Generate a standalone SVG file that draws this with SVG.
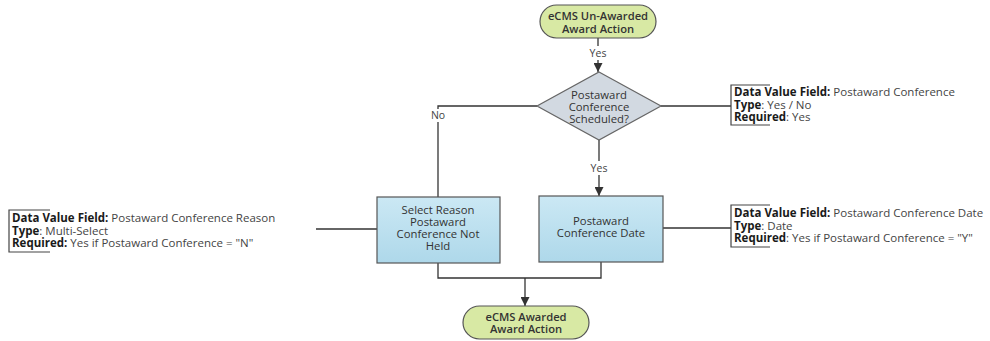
<svg xmlns="http://www.w3.org/2000/svg" width="990" height="341" viewBox="0 0 990 341">
<style>
.bg{fill:#ffffff}
.term{fill:#d8e9a4;stroke:#555;stroke-width:1.2}
.dia{fill:#d2d9e1;stroke:#666;stroke-width:1.2}
.box{fill:url(#boxg);stroke:#555;stroke-width:1.2}
.ln{fill:none;stroke:#333;stroke-width:1.3}
.br{fill:none;stroke:#444;stroke-width:1.2}
.nt{font-family:"Open Sans","Liberation Sans",sans-serif;font-size:11.3px;fill:#333;text-anchor:middle}
.tt{font-family:"Open Sans","Liberation Sans",sans-serif;font-size:11.2px;font-weight:600;fill:#333;text-anchor:middle}
.lb{font-family:"Open Sans","Liberation Sans",sans-serif;font-size:10.5px;fill:#444;text-anchor:middle}
.dv{font-family:"Open Sans","Liberation Sans",sans-serif;font-size:11.5px;fill:#444}
.dv .b{font-weight:700;fill:#1a1a1a}
</style>
<defs>
<linearGradient id="boxg" x1="0" y1="0" x2="0" y2="1">
<stop offset="0" stop-color="#cbe8f4"/>
<stop offset="1" stop-color="#aed8ea"/>
</linearGradient>
<marker id="arr" viewBox="0 0 10 10" refX="10" refY="5" markerWidth="9" markerHeight="9" markerUnits="userSpaceOnUse" orient="auto">
<path d="M0,0 L10,5 L0,10 Z" fill="#333"/>
</marker>
</defs>
<rect class="bg" x="0" y="0" width="990" height="341"/>
<g id="connectors">
<path class="ln" d="M598,38 V46"/>
<path class="ln" d="M598,60 V72" marker-end="url(#arr)"/>
<path class="ln" d="M537,106 H438 V109"/>
<path class="ln" d="M438,122 V197"/>
<path class="ln" d="M661,106 H731"/>
<path class="ln" d="M599,140 V161"/>
<path class="ln" d="M599,175 V196" marker-end="url(#arr)"/>
<path class="ln" d="M377,229 H316"/>
<path class="ln" d="M663,228 H731"/>
<path class="ln" d="M438,263 V278 H601 V262"/>
<path class="ln" d="M525,278 V306" marker-end="url(#arr)"/>
<text class="lb" x="598" y="57">Yes</text>
<text class="lb" x="438" y="119">No</text>
<text class="lb" x="599" y="172">Yes</text>
</g>
<g id="start">
<rect class="term" x="540" y="5" width="116" height="33" rx="16.5"/>
<text class="tt" x="598" y="20">eCMS Un-Awarded</text>
<text class="tt" x="598" y="32.5">Award Action</text>
</g>
<g id="decision">
<polygon class="dia" points="599,72 661,106 599,140 537,106"/>
<text class="nt" x="599" y="99">Postaward</text>
<text class="nt" x="599" y="111">Conference</text>
<text class="nt" x="599" y="123">Scheduled?</text>
</g>
<g id="reason">
<rect class="box" x="377" y="197" width="123" height="66"/>
<text class="nt" x="438" y="214">Select Reason</text>
<text class="nt" x="438" y="226">Postaward</text>
<text class="nt" x="438" y="238">Conference Not</text>
<text class="nt" x="438" y="250">Held</text>
</g>
<g id="date">
<rect class="box" x="539" y="196" width="124" height="66"/>
<text class="nt" x="601" y="225">Postaward</text>
<text class="nt" x="601" y="237">Conference Date</text>
</g>
<g id="end">
<rect class="term" x="463" y="306" width="126" height="33" rx="16.5"/>
<text class="tt" x="526" y="320.5">eCMS Awarded</text>
<text class="tt" x="526" y="333">Award Action</text>
</g>
<g id="note-scheduled">
<path class="br" d="M770,85 H731 V125 H770"/>
<text class="dv" x="734" y="96"><tspan class="b">Data Value Field:</tspan> Postaward Conference</text>
<text class="dv" x="734" y="108.5"><tspan class="b">Type</tspan>: Yes / No</text>
<text class="dv" x="734" y="121"><tspan class="b">Required</tspan>: Yes</text>
</g>
<g id="note-reason">
<path class="br" d="M50,210 H9 V252 H50"/>
<text class="dv" x="12" y="222"><tspan class="b">Data Value Field:</tspan> Postaward Conference Reason</text>
<text class="dv" x="12" y="234.5"><tspan class="b">Type</tspan>: Multi-Select</text>
<text class="dv" x="12" y="247"><tspan class="b">Required:</tspan> Yes if Postaward Conference = "N"</text>
</g>
<g id="note-date">
<path class="br" d="M770,205 H731 V247 H770"/>
<text class="dv" x="734" y="217"><tspan class="b">Data Value Field:</tspan> Postaward Conference Date</text>
<text class="dv" x="734" y="229.5"><tspan class="b">Type</tspan>: Date</text>
<text class="dv" x="734" y="242"><tspan class="b">Required</tspan>: Yes if Postaward Conference = "Y"</text>
</g>
</svg>
